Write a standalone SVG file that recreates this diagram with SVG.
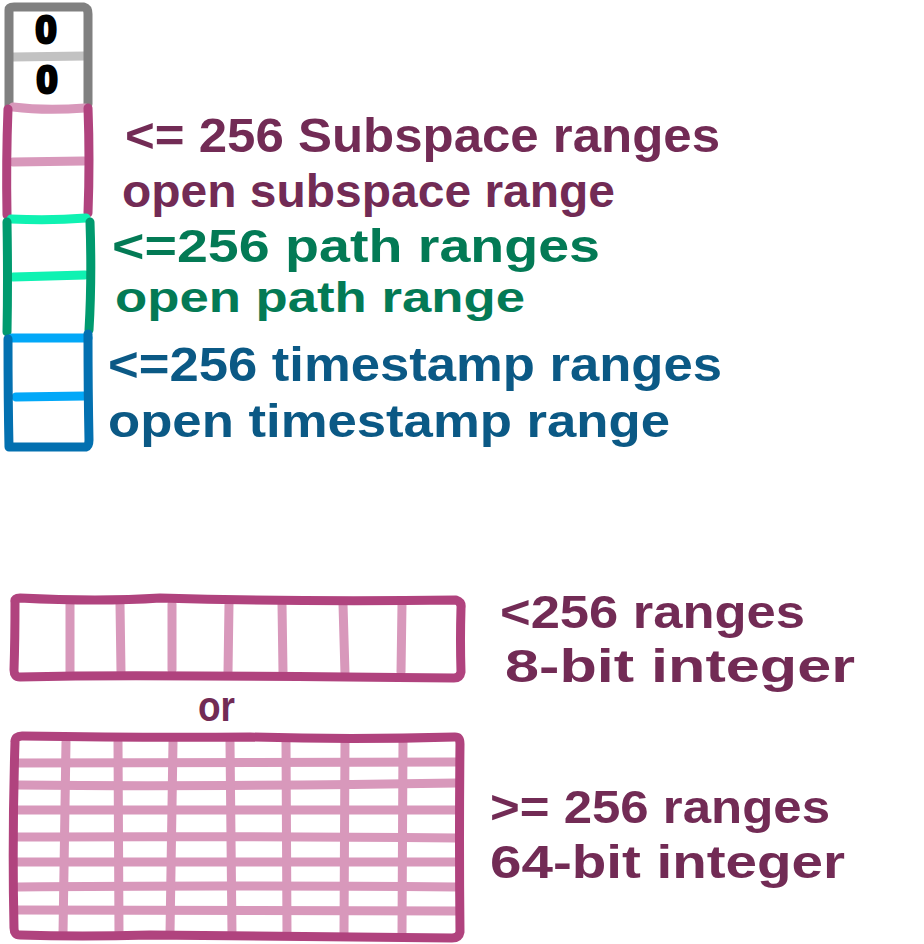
<svg xmlns="http://www.w3.org/2000/svg" width="924" height="944" viewBox="0 0 924 944">
<style>
.s{fill:none;stroke-width:9;stroke-linecap:round;stroke-linejoin:round}
.g1{stroke:#808080}.g2{stroke:#c2c2c2}
.p1{stroke:#b0437e}.p2{stroke:#d898bb}
.n1{stroke:#009a6e}.n2{stroke:#0ff2b2}
.b1{stroke:#0370b0}.b2{stroke:#02a8f8}
text{font-family:"Liberation Sans","Open Sans",sans-serif;font-weight:bold}
.tm{fill:#722b55}.tg{fill:#037a55}.tb{fill:#0b5985}
.z{fill:#000;stroke:#000;stroke-width:3;stroke-linejoin:round}
</style>
<rect width="924" height="944" fill="#fff"/>
<g id="column">
<g id="zeros">
<path class="s g2" d="M13 57 L85 56"/>
<path class="s g1" d="M9 106 L9 10 Q9 7 14 7 L84 7 Q88 8 88 14 L88 104"/>
<text class="z" x="46" y="43" font-size="38" text-anchor="middle">0</text>
<text class="z" x="47" y="93" font-size="38" text-anchor="middle">0</text>
</g>
<g id="subspace">
<path class="s p2" d="M13 107 Q45 111 85 108"/>
<path class="s p2" d="M13 162 L84 161"/>
<path class="s p1" d="M8 109 Q6 160 7 215"/>
<path class="s p1" d="M88 108 Q90 160 88 213"/>
</g>
<g id="path">
<path class="s n2" d="M11 219 Q50 221 86 218"/>
<path class="s n2" d="M13 277 L85 275"/>
<path class="s n1" d="M7 222 Q8 280 7 332"/>
<path class="s n1" d="M90 222 Q92 280 89 330"/>
</g>
<g id="timestamp">
<path class="s b2" d="M12 338 L88 338"/>
<path class="s b2" d="M16 397 L85 396"/>
<path class="s b1" d="M8 339 Q8 400 9 447 L86 447 Q89 446 89 440 Q88 390 88 334"/>
</g>
</g>
<g id="labels">
<text class="tm" x="125" y="152" font-size="48" textLength="595" lengthAdjust="spacingAndGlyphs">&lt;= 256 Subspace ranges</text>
<text class="tm" x="122" y="207" font-size="46" textLength="493" lengthAdjust="spacingAndGlyphs">open subspace range</text>
<text class="tg" x="112" y="262" font-size="46" textLength="488" lengthAdjust="spacingAndGlyphs">&lt;=256 path ranges</text>
<text class="tg" x="115" y="312" font-size="43" textLength="410" lengthAdjust="spacingAndGlyphs">open path range</text>
<text class="tb" x="108" y="381" font-size="48" textLength="614" lengthAdjust="spacingAndGlyphs">&lt;=256 timestamp ranges</text>
<text class="tb" x="108" y="437" font-size="46" textLength="562" lengthAdjust="spacingAndGlyphs">open timestamp range</text>
</g>
<g id="small-array">
<path class="s p2" d="M70 604 L70 672 M120 604 L121 672 M172 604 L172 670 M229 604 L228 672 M282 604 L283 672 M343 604 L345 674 M402 604 L401 672"/>
<path class="s p1" d="M15 602 Q14 598 20 598 Q100 602 160 598 Q300 602 456 600 Q462 602 461 608 Q460 640 461 672 Q460 678 454 678 Q300 676 200 676 Q100 675 20 677 Q14 677 14 670 Q15 640 15 602 Z"/>
</g>
<text class="tm" x="198" y="721" font-size="42" textLength="37" lengthAdjust="spacingAndGlyphs">or</text>
<g id="large-array">
<path class="s p2" d="M18 763 L457 762 M18 785 Q200 787 457 783 M18 810 L457 810 M18 837 Q200 836 457 838 M18 862 L457 862 M18 887 Q200 885 457 887 M18 910 L457 911"/>
<path class="s p2" d="M66 742 L63 934 M118 742 L119 934 M173 742 L170 934 M230 742 L232 934 M286 742 L287 934 M345 742 L344 934 M403 742 L402 934"/>
<path class="s p1" d="M15 742 Q15 736 22 736 Q150 738 250 737 Q350 740 455 737 Q460 737 460 744 Q459 840 460 932 Q459 938 452 938 Q300 937 150 935 Q80 937 20 935 Q14 935 14 928 Q12 840 15 742 Z"/>
</g>
<g id="sizes">
<text class="tm" x="500" y="628" font-size="46" textLength="305" lengthAdjust="spacingAndGlyphs">&lt;256 ranges</text>
<text class="tm" x="505" y="682" font-size="46" textLength="350" lengthAdjust="spacingAndGlyphs">8-bit integer</text>
<text class="tm" x="490" y="823" font-size="46" textLength="340" lengthAdjust="spacingAndGlyphs">&gt;= 256 ranges</text>
<text class="tm" x="490" y="878" font-size="46" textLength="355" lengthAdjust="spacingAndGlyphs">64-bit integer</text>
</g>
</svg>
